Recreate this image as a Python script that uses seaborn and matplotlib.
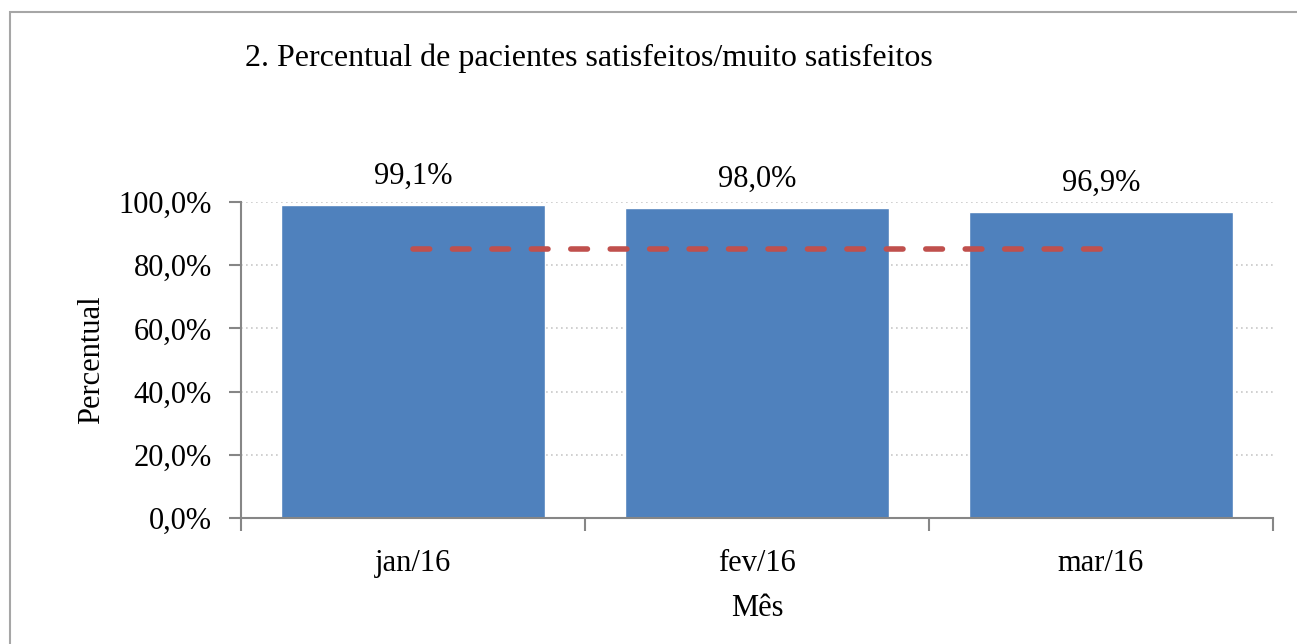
import numpy as np
import pandas as pd
import matplotlib.pyplot as plt
import seaborn as sns
from matplotlib.patches import Rectangle

meses = ["jan/16", "fev/16", "mar/16"]
percentual = [0.991, 0.980, 0.969]
meta = [0.85, 0.85, 0.85]
rotulos = ["99,1%", "98,0%", "96,9%"]
yticks = [0.0, 0.2, 0.4, 0.6, 0.8, 1.0]
ytick_labels = ["0,0%", "20,0%", "40,0%", "60,0%", "80,0%", "100,0%"]

df = pd.DataFrame({"mes": meses, "percentual": percentual, "meta": meta})

sns.set_style("white")
plt.rcParams["font.family"] = ["Liberation Serif", "DejaVu Serif"]
plt.rcParams["text.color"] = "black"
plt.rcParams["xtick.color"] = "black"
plt.rcParams["ytick.color"] = "black"
plt.rcParams["axes.labelcolor"] = "black"

fig = plt.figure(figsize=(12.97, 6.44), dpi=100)
ax = fig.add_axes([241 / 1297, 1 - 518 / 644, (1273 - 241) / 1297, (518 - 202) / 644])

# borda do gráfico (só topo e esquerda aparecem)
fig.patches.append(Rectangle((10 / 1297, -0.1), 1.2, 1 - 12 / 644 + 0.1,
                             transform=fig.transFigure, fill=False,
                             edgecolor="#a6a6a6", linewidth=1.5))

sns.barplot(data=df, x="mes", y="percentual", color="#4F81BD", saturation=1,
            width=0.77, ax=ax, zorder=2)
ax.plot(range(len(meses)), df["meta"], color="#C0504D", linewidth=4,
        dashes=(3.0, 4.1), dash_capstyle="round", zorder=3)

for i, txt in enumerate(rotulos):
    ax.text(i, percentual[i] + 0.045, txt, ha="center", va="bottom", fontsize=22)

ax.set_xlim(-0.5, 2.5)
ax.set_ylim(0, 1.0)
ax.set_yticks(yticks)
ax.set_yticklabels(ytick_labels, fontsize=22)
ax.set_xticks([-0.5, 0.5, 1.5, 2.5], minor=False)
ax.set_xticklabels([])
ax.set_xticks([0, 1, 2], minor=True)
ax.set_xticklabels(meses, minor=True, fontsize=22)
ax.tick_params(axis="x", which="minor", bottom=False, length=0, pad=22)
ax.tick_params(axis="x", which="major", bottom=True, direction="out", length=9,
               width=1.5, color="#868686")
ax.tick_params(axis="y", left=True, direction="out", length=9, width=1.5,
               color="#868686", pad=12)
ax.yaxis.grid(True, linestyle=(0, (1, 2)), color="#c8c8c8", linewidth=1.2, zorder=0)
ax.set_axisbelow(True)

for s in ["top", "right"]:
    ax.spines[s].set_visible(False)
for s in ["left", "bottom"]:
    ax.spines[s].set_color("#868686")
    ax.spines[s].set_linewidth(1.5)
ax.spines["bottom"].set_zorder(4)

ax.set_xlabel("Mês", fontsize=22, labelpad=12)
ax.set_ylabel("Percentual", fontsize=22, labelpad=9)

fig.text(245 / 1297, 1 - 58 / 644, "2. Percentual de pacientes satisfeitos/muito satisfeitos",
         fontsize=23, ha="left", va="center")

fig.savefig("out.png", dpi=100, facecolor="white")
